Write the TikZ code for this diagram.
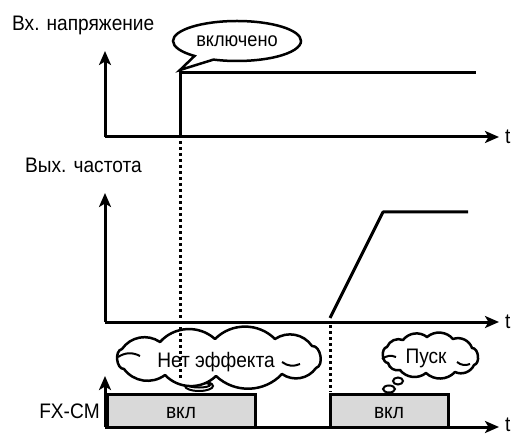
\documentclass[tikz,border=0pt]{standalone}
\usepackage{fontspec}
\setmainfont{Liberation Sans}[FakeStretch=0.91]
\usetikzlibrary{arrows.meta,shapes.callouts,shapes.geometric}
\begin{document}
\begin{tikzpicture}[x=1pt,y=-1pt,
  axis/.style={line width=3pt,-{Stealth[length=14pt,width=12pt,inset=3.5pt]}},
  sig/.style={line width=3pt},
  dots/.style={line width=3pt,dash pattern=on 3pt off 3pt},
  lbl/.style={font=\fontsize{21}{24}\selectfont,inner sep=0pt},
  onbox/.style={draw,line width=3pt,fill=black!15},
  cloudline/.style={draw,line width=2.5pt,fill=white,line join=round},
  puff/.style={bend left=45},
  lobe/.style={bend left=85},
  bubble/.style={ellipse,draw,line width=2pt,fill=white,inner sep=0pt}]
\useasboundingbox (0,0) rectangle (518,435);
% labels
\node[lbl,anchor=west] (l1) at (12,25) {Вх. напряжение};
\node[lbl,anchor=west] (l2) at (25,165) {Вых. частота};
\node[lbl,anchor=east] (l3) at (100,411) {FX-CM};
% top axis
\coordinate (o1) at (105,137);
\coordinate (y1) at (105,51);
\coordinate (x1) at (499,137);
\node[lbl,anchor=west] (t1) at (505,137) {t};
\draw[axis] (o1) -- (y1);
\draw[axis] (o1) -- (x1);
\coordinate (s1) at (180,137);
\coordinate (s2) at (180,73);
\coordinate (s3) at (476,73);
\draw[sig] (s1) -- (s2) -- (s3);
\node[ellipse callout,draw,line width=2.5pt,fill=white,minimum width=128pt,minimum height=40pt,inner sep=0pt,
  callout absolute pointer={(180,70)},callout pointer arc=20,font=\fontsize{20}{22}\selectfont] (on) at (237,41) {включено};
% middle axis
\coordinate (o2) at (105,322);
\coordinate (y2) at (105,193);
\coordinate (x2) at (499,322);
\node[lbl,anchor=west] (t2) at (505,322) {t};
\draw[axis] (o2) -- (y2);
\draw[axis] (o2) -- (x2);
\coordinate (r1) at (330,318);
\coordinate (r2) at (383,212);
\coordinate (r3) at (468,212);
\draw[sig,line join=round] (r1) -- (r2) -- (r3);
% bottom axis
\node[onbox,minimum width=148pt,minimum height=33pt] (b1) at (181,411) {};
\node[onbox,minimum width=118pt,minimum height=33pt] (b2) at (389,411) {};
\node[lbl] (v1) at (181,413) {вкл};
\node[lbl] (v2) at (389,413) {вкл};
\coordinate (o3) at (105,427);
\coordinate (y3) at (105,376);
\coordinate (x3) at (499,427);
\node[lbl,anchor=west] (t3) at (505,425) {t};
\draw[axis] (o3) -- (y3);
\draw[axis] (o3) -- (x3);
% cloud 1
\node[bubble,minimum width=28pt,minimum height=10pt] (p1a) at (199,386) {};
\node[bubble,minimum width=22pt,minimum height=5pt] (p1b) at (199,385) {};
\path[cloudline] (122,349) to[puff] (160,342) to[puff] (215,339) to[puff] (275,339)
  to[puff] (312,346) to[lobe] (316,368) to[puff] (282,374) to[puff] (216,376)
  to[puff] (165,375) to[puff] (124,369) to[lobe] cycle;
\draw[line width=2pt] (118,357) to[bend left=30] (140,356);
\draw[line width=2pt] (282,362) to[bend right=30] (300,364);
\node[lbl] (c1) at (216,362) {Нет эффекта};
% cloud 2
\node[bubble,minimum width=10pt,minimum height=7pt] (p2a) at (398,381) {};
\node[bubble,minimum width=12pt,minimum height=7pt] (p2b) at (389,389) {};
\path[cloudline] (387,347) to[puff] (403,340) to[puff] (427,337) to[puff] (453,339)
  to[puff] (472,348) to[lobe] (474,365) to[puff] (455,372) to[puff] (426,373)
  to[puff] (400,370) to[puff] (388,363) to[lobe] cycle;
\draw[line width=2pt] (382,359) to[bend left=30] (396,357);
\draw[line width=2pt] (457,362) to[bend right=30] (470,364);
\node[lbl] (c2) at (426,358) {Пуск};
% dotted lines
\coordinate (d1a) at (180,141);
\coordinate (d1b) at (180,378);
\coordinate (d2a) at (330,325);
\coordinate (d2b) at (330,392);
\draw[dots] (d1a) -- (d1b);
\draw[dots] (d2a) -- (d2b);
\end{tikzpicture}
\end{document}
